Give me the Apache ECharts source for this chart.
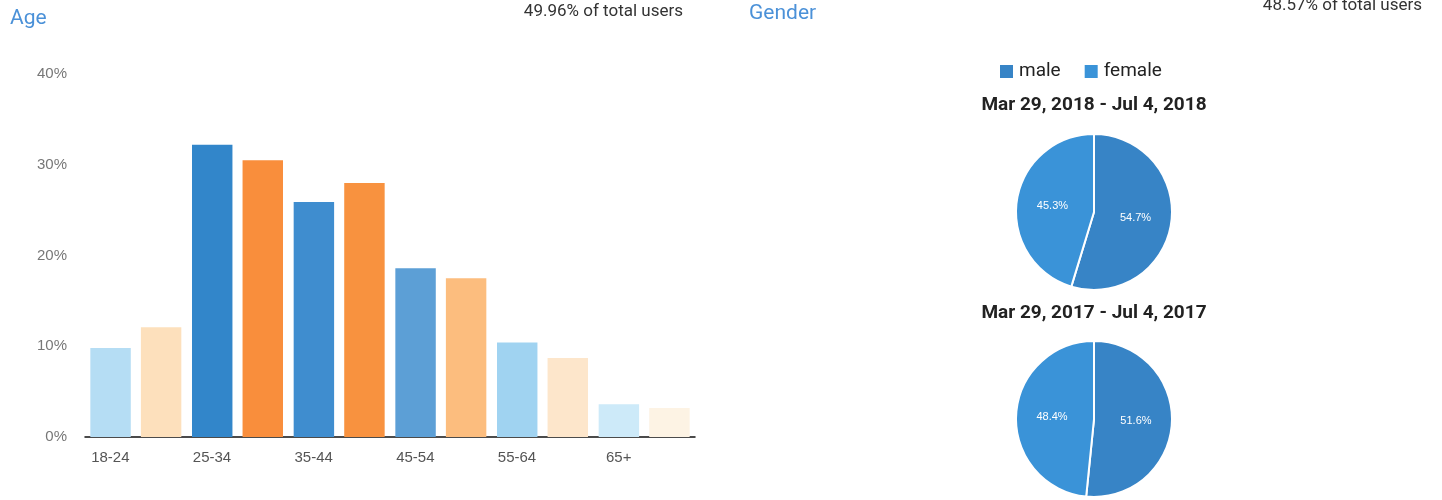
<!DOCTYPE html>
<html>
<head>
<meta charset="utf-8">
<title>Age / Gender</title>
<script src="https://cdn.jsdelivr.net/npm/echarts@6/dist/echarts.min.js"></script>
<style>
  html, body { margin: 0; padding: 0; background: #fff; }
  #chart { width: 1442px; height: 500px; }
</style>
</head>
<body>
<div id="chart"></div>
<script>
// age buckets, current period (blue) vs previous period (orange), % of users
var ageGroups = ['18-24', '25-34', '35-44', '45-54', '55-64', '65+'];
var currentPct = [9.8, 32.2, 25.9, 18.6, 10.4, 3.6];
var previousPct = [12.1, 30.5, 28.0, 17.5, 8.7, 3.2];
var yTicks = [0, 10, 20, 30, 40];

// gender split for the two date ranges
var genders = ['male', 'female'];
var gender2018 = [54.7, 45.3];
var gender2017 = [51.6, 48.4];
var rangeLabels = ['Mar 29, 2018 - Jul 4, 2018', 'Mar 29, 2017 - Jul 4, 2017'];

// bar shading per age bucket
var blueShades = ['#b5ddf4', '#3286ca', '#3f8dcf', '#5c9fd6', '#a0d3f1', '#cdeaf9'];
var orangeShades = ['#fde0bc', '#f98e3c', '#f8923f', '#fcbd7e', '#fde6cb', '#fdf3e4'];
var genderColors = ['#3784c6', '#3a93d8'];

var chart = echarts.init(document.getElementById('chart'));

function barData (values, shades) {
  return values.map(function (v, i) {
    return { value: v, itemStyle: { color: shades[i] } };
  });
}

function pieData (values) {
  return values.map(function (v, i) {
    return { name: genders[i], value: v, itemStyle: { color: genderColors[i] } };
  });
}

var pieBase = {
  type: 'pie',
  radius: 78,
  startAngle: 90,
  clockwise: true,
  silent: true,
  itemStyle: { borderColor: '#fff', borderWidth: 2 },
  label: {
    position: 'inside',
    color: '#fff',
    fontSize: 11,
    fontFamily: 'Liberation Sans, Arial, sans-serif',
    formatter: function (p) { return p.value.toFixed(1) + '%'; }
  },
  labelLine: { show: false }
};

var option = {
  animation: false,
  textStyle: { fontFamily: 'Liberation Sans, Arial, sans-serif' },
  graphic: [
    { type: 'text', left: 10, top: 8, style: { text: 'Age', fill: '#4b91d8', font: '21px Roboto, sans-serif' } },
    { type: 'text', right: 759, top: 3, style: { text: '49.96% of total users', fill: '#333', font: '17px Roboto, sans-serif' } },
    { type: 'text', left: 749, top: 3, style: { text: 'Gender', fill: '#4b91d8', font: '21px Roboto, sans-serif' } },
    { type: 'text', right: 20, top: -3, style: { text: '48.57% of total users', fill: '#333', font: '17px Roboto, sans-serif' } },
    { type: 'text', x: 1094, y: 105, style: { text: rangeLabels[0], fill: '#222', font: 'bold 19px Roboto, sans-serif', textAlign: 'center', textVerticalAlign: 'middle' } },
    { type: 'text', x: 1094, y: 313, style: { text: rangeLabels[1], fill: '#222', font: 'bold 19px Roboto, sans-serif', textAlign: 'center', textVerticalAlign: 'middle' } }
  ],
  legend: {
    data: genders,
    left: 993,
    top: 57,
    icon: 'rect',
    itemWidth: 15,
    itemHeight: 15,
    itemGap: 22,
    selectedMode: false,
    textStyle: { fontSize: 19, color: '#222', fontFamily: 'Roboto, sans-serif' }
  },
  grid: { left: 85, right: 747, top: 74, bottom: 63 },
  xAxis: {
    type: 'category',
    data: ageGroups,
    axisLine: { lineStyle: { color: '#111', width: 1.5 } },
    axisTick: { show: false },
    axisLabel: { color: '#555', fontSize: 15, margin: 13, padding: [0, 51, 0, 0] }
  },
  yAxis: {
    type: 'value',
    min: yTicks[0],
    max: yTicks[yTicks.length - 1],
    interval: 10,
    axisLine: { show: false },
    axisTick: { show: false },
    splitLine: { show: false },
    axisLabel: { color: '#777', fontSize: 15, margin: 18, formatter: '{value}%' }
  },
  series: [
    { type: 'bar', name: 'current', data: barData(currentPct, blueShades), barGap: '25%', barCategoryGap: '10.5%', silent: true },
    { type: 'bar', name: 'previous', data: barData(previousPct, orangeShades), silent: true },
    Object.assign({}, pieBase, { name: '2018', center: [1094, 212], data: pieData(gender2018) }),
    Object.assign({}, pieBase, { name: '2017', center: [1094, 419], data: pieData(gender2017) })
  ]
};

chart.setOption(option);
</script>
</body>
</html>
